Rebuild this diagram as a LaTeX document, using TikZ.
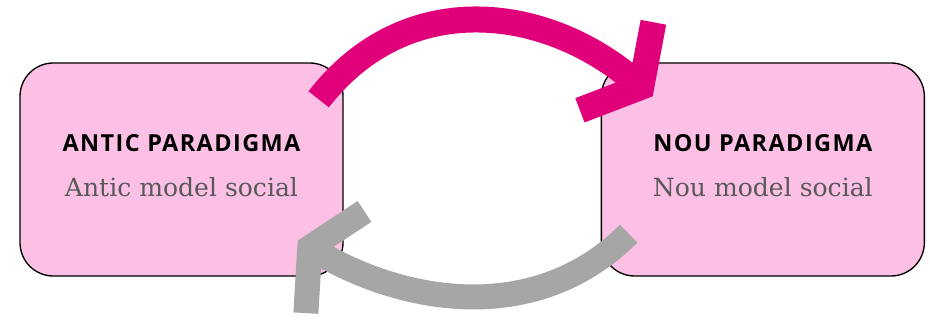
\documentclass[tikz,border=0pt]{standalone}
\usepackage{fontspec}
\setmainfont{DejaVu Serif}
\newfontfamily\titlefont{Open Sans}[LetterSpace=6]
\usetikzlibrary{positioning,arrows.meta,calc}
\definecolor{BoxPink}{RGB}{252,192,228}
\definecolor{ArcMagenta}{RGB}{224,0,122}
\definecolor{ArcGray}{RGB}{166,166,166}
\definecolor{SubGray}{RGB}{88,88,90}
\tikzset{
  pbox/.style={draw=black,fill=BoxPink,rounded corners=25pt,
               minimum width=242.25pt,minimum height=159.75pt,
               align=center,line width=1pt,inner sep=0pt},
  marr/.style={-{Straight Barb[length=24pt,width=86pt,sharp]},ArcMagenta,line width=19.5pt},
  garr/.style={-{Straight Barb[length=22pt,width=88pt,sharp]},ArcGray,line width=18.75pt},
}
\newcommand{\ttl}[1]{{\titlefont\bfseries\fontsize{17.6}{20}\selectfont #1}}
\newcommand{\sub}[1]{{\color{SubGray}\fontsize{18.8}{20}\selectfont #1}}

\begin{document}
\begin{tikzpicture}[x=0.75pt,y=-0.75pt]
  \useasboundingbox (0,0) rectangle (930,320);
  \node[pbox] (antic) at (181.5,169.5) {\ttl{ANTIC PARADIGMA}\\[19pt]\sub{Antic model social}\\[-6pt]\mbox{}};
  \node[pbox,right=192.75pt of antic] (nou) {\ttl{NOU PARADIGMA}\\[19pt]\sub{Nou model social}\\[-6pt]\mbox{}};
  % cicle entre paradigmes
  \draw[marr] ($(antic.north east)+(-25,37)$) .. controls +(87,-112) and +(-109,-91) .. ($(nou.north west)+(52,34)$);
  \draw[garr] ($(nou.south west)+(28,-43)$) .. controls +(-91,91) and +(111,64) .. ($(antic.south east)+(-46,-36)$);
\end{tikzpicture}
\end{document}
